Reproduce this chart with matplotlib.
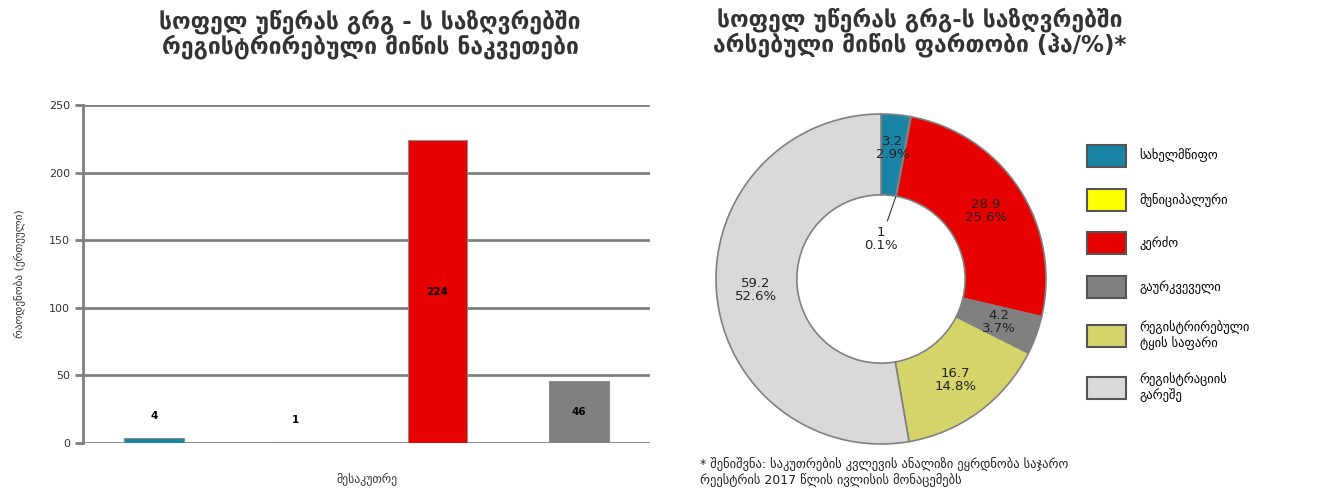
import matplotlib
matplotlib.use("Agg")
import matplotlib.pyplot as plt
from matplotlib.patches import Patch
import numpy as np

plt.rcParams['font.family'] = ['DejaVu Sans']

# data for the bar chart (registered plots, count)
bar_owners = ['სახელმწიფო', 'მუნიციპალური', 'კერძო', 'გაურკვეველი']
bar_counts = [4, 1, 224, 46]
bar_colors = ['#1a84a6', '#ffff00', '#e60000', '#808080']

# data for the donut (area, ha / %)
pie_labels = ['სახელმწიფო', 'მუნიციპალური', 'კერძო', 'გაურკვეველი',
              'რეგისტრირებული\nტყის საფარი', 'რეგისტრაციის\nგარეშე']
pie_ha = [3.2, 0.1, 28.9, 4.2, 16.7, 59.2]
pie_ha_text = ['3.2', '1', '28.9', '4.2', '16.7', '59.2']
pie_pct_text = ['2.9%', '0.1%', '25.6%', '3.7%', '14.8%', '52.6%']
pie_colors = ['#1a84a6', '#ffff00', '#e60000', '#808080', '#d4d46a', '#d9d9d9']

W, H = 1317, 498
fig = plt.figure(figsize=(W / 100, H / 100), dpi=100)

# ---- left: bar chart ----
ax1 = fig.add_axes([83 / W, (H - 443) / H, (650 - 83) / W, (443 - 105) / H])
n = len(bar_counts)
for i in range(n):
    b = ax1.bar(i, bar_counts[i], width=0.42, color=bar_colors[i],
                edgecolor='#8c8c8c', linewidth=0.8, zorder=3)
    if bar_counts[i] < 20:
        ax1.bar_label(b, labels=[str(bar_counts[i])], padding=12, fontsize=7.5,
                      fontweight='bold')
    else:
        ax1.bar_label(b, labels=[str(bar_counts[i])], label_type='center',
                      fontsize=7.5, fontweight='bold')
ax1.set_xlim(-0.5, n - 0.5)
ax1.set_ylim(0, 250)
ax1.set_yticks([0, 50, 100, 150, 200, 250])
ax1.set_xticks([])
ax1.yaxis.grid(True, color='#808080', linewidth=2)
ax1.set_axisbelow(True)
for s in ['top', 'right', 'bottom']:
    ax1.spines[s].set_visible(False)
ax1.spines['left'].set_color('#808080')
ax1.spines['left'].set_linewidth(2)
ax1.tick_params(axis='y', colors='#808080', width=2, length=6, labelsize=8,
                labelcolor='#333333')
ax1.set_ylabel('რაოდენობა (ერთეული)', fontsize=8, color='#333333', labelpad=16)
ax1.set_xlabel('მესაკუთრე', fontsize=8.5, color='#333333', labelpad=22)
fig.text(370 / W, 1 - 34 / H,
         'სოფელ უწერას გრგ - ს საზღვრებში\nრეგისტრირებული მიწის ნაკვეთები',
         ha='center', va='center', fontsize=16.5, fontweight='bold',
         linespacing=1.0, color='#333333')

# ---- right: donut ----
ax2 = fig.add_axes([716 / W, (H - 444) / H, 330 / W, 330 / H])
wedges, _ = ax2.pie(pie_ha, colors=pie_colors, startangle=90, counterclock=False,
                    radius=1.0, wedgeprops=dict(width=0.49, edgecolor='#808080',
                                                linewidth=1.2))
ax2.set_xlim(-1, 1)
ax2.set_ylim(-1, 1)
ax2.set_aspect('equal')
total = sum(pie_ha)
cum = 0
for i, v in enumerate(pie_ha):
    mid = 90 - 360 * (cum + v / 2) / total
    cum += v
    txt = pie_ha_text[i] + '\n' + pie_pct_text[i]
    ang = np.deg2rad(mid)
    if i == 1:
        ax2.annotate(txt, xy=(0.52 * np.cos(ang), 0.52 * np.sin(ang)),
                     xytext=(0.0, 0.24), ha='center', va='center', fontsize=9.5,
                     linespacing=1.0, color='#222222',
                     arrowprops=dict(arrowstyle='-', color='#333333', lw=0.8))
    else:
        r = 0.76
        if i == 0:
            r = 0.8
        ax2.text(r * np.cos(ang), r * np.sin(ang), txt, ha='center', va='center',
                 fontsize=9.5, linespacing=1.0, color='#222222')
fig.text(920 / W, 1 - 32 / H,
         'სოფელ უწერას გრგ-ს საზღვრებში\nარსებული მიწის ფართობი (ჰა/%)*',
         ha='center', va='center', fontsize=16.5, fontweight='bold',
         linespacing=1.0, color='#333333')

handles = [Patch(facecolor=c, edgecolor='#555555', linewidth=1.5) for c in pie_colors]
fig.legend(handles, pie_labels, loc='upper left', bbox_to_anchor=(1076 / W, 1 - 134 / H),
           frameon=False, fontsize=9, handlelength=3.1, handleheight=2.3,
           labelspacing=1.75, handletextpad=1.1)

fig.text(700 / W, 1 - 472 / H,
         '* შენიშვნა: საკუთრების კვლევის ანალიზი ეყრდნობა საჯარო\n'
         'რეესტრის 2017 წლის ივლისის მონაცემებს',
         ha='left', va='center', fontsize=9, linespacing=1.1, color='#222222')

fig.savefig('out.png', dpi=100)
